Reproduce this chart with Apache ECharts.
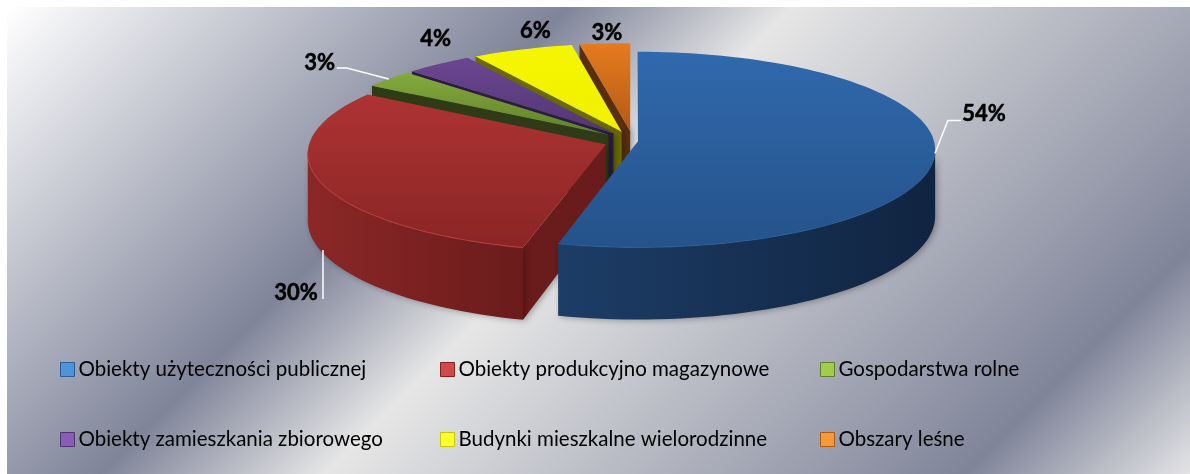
<!DOCTYPE html>
<html>
<head>
<meta charset="utf-8">
<style>
  html, body { margin: 0; padding: 0; background: #fff; }
  #chart { width: 1190px; height: 474px; }
</style>
<script src="https://cdn.jsdelivr.net/npm/echarts@6/dist/echarts.min.js"></script>
</head>
<body>
<div id="chart"></div>
<script>
const categories = [
  'Obiekty użyteczności publicznej',
  'Obiekty produkcyjno magazynowe',
  'Gospodarstwa rolne',
  'Obiekty zamieszkania zbiorowego',
  'Budynki mieszkalne wielorodzinne',
  'Obszary leśne'
]
const shares = [54, 30, 3, 4, 6, 3]

// look of each slice: top surface gradient, walls, exploded distance
const topColors = [
  ['#3069ad', '#25528a'], ['#ae3333', '#8a2525'], ['#84ab3c', '#5f802b'],
  ['#6b4692', '#533672'], ['#f6f600', '#f0f000'], ['#e67b20', '#b25a14']
]
const wallColors = [
  ['#1d3d67', '#102440'], ['#8c2727', '#6a1b1b'], ['#2f3a16', '#2f3a16'],
  ['#2c1c44', '#2c1c44'], ['#6a6a00', '#6a6a00'], ['#5a2e0a', '#5a2e0a']
]
const legendColors = [
  ['#4f94d8', '#2d5c96'], ['#d04a4a', '#7f2222'], ['#a3cc4c', '#5f802b'],
  ['#8a5cb8', '#4f3570'], ['#ffff30', '#c8c800'], ['#f59a3a', '#b25a14']
]
const explode = [5, 29, 31, 31, 31, 31]
// leader line and label, relative to the rim point at the middle of the slice
const leaders = [
  [[0, 0], [13, -33], [26, -33]],
  [[3, 0], [3, 49]],
  [[0, 0], [-42, -11], [-52, -11]],
  [], [], []
]
const labelOffsets = [[49, -40], [-24, 43], [-69, -16], [-3, -25], [13, -19], [2, -11]]
const legendSpots = [[60, 359], [440, 359], [820, 359], [60, 429], [440, 429], [820, 429]]

// projection of the tilted disc
const CX = 633, CY = 141, R = 296, RY = 97, K = 0.0855, DEPTH = 66

function project(x, y, drop) {
  const s = 1 / (1 - K * y)
  return [CX + R * x * s, CY + RY * y * s + (drop || 0) * s]
}
function polar(deg) {
  const a = deg * Math.PI / 180
  return [Math.sin(a), -Math.cos(a)]
}
function rimPoint(apex, deg, drop) {
  const p = polar(deg)
  return project(apex[0] + p[0], apex[1] + p[1], drop)
}
function arc(apex, from, to, drop) {
  const pts = []
  const n = Math.max(2, Math.ceil(Math.abs(to - from) / 2))
  for (let i = 0; i <= n; i++) pts.push(rimPoint(apex, from + (to - from) * i / n, drop))
  return pts
}
function linear(x, y, x2, y2, c) {
  return { type: 'linear', global: true, x, y, x2, y2, colorStops: [{ offset: 0, color: c[0] }, { offset: 1, color: c[1] }] }
}

function renderSlice(params, api) {
  const cat = api.value(3)
  const from = api.value(0), to = api.value(1)
  const mid = (from + to) / 2
  const m = polar(mid)
  const e = explode[cat] / R
  const apex = [m[0] * e, m[1] * e]
  const children = []
  const shadow = { shadowBlur: 6, shadowColor: 'rgba(0,0,0,0.3)', shadowOffsetX: 2, shadowOffsetY: 1 }

  const apexTop = project(apex[0], apex[1])
  const apexBottom = project(apex[0], apex[1], DEPTH)
  const topPts = [apexTop].concat(arc(apex, from, to))
  const ys = topPts.map(p => p[1])

  // radial wall that faces the viewer
  if (Math.sin(from * Math.PI / 180) < -0.01) {
    const a = rimPoint(apex, from), b = rimPoint(apex, from, DEPTH)
    children.push({
      type: 'polygon',
      shape: { points: [apexTop, a, b, apexBottom] },
      style: Object.assign({ fill: wallColors[cat][1] }, shadow)
    })
  }
  // outer wall, between the widest points of the rim
  const wFrom = Math.max(from, 95), wTo = Math.min(to, 266)
  if (wTo > wFrom) {
    const upper = arc(apex, wFrom, wTo)
    const lower = arc(apex, wFrom, wTo, DEPTH).reverse()
    const wx = upper.map(p => p[0])
    const left = Math.min.apply(null, wx), right = Math.max.apply(null, wx)
    children.push({
      type: 'polygon',
      shape: { points: upper.concat(lower) },
      style: Object.assign({ fill: linear(left, 0, right, 0, wallColors[cat]) }, shadow)
    })
  }
  // top surface
  children.push({
    type: 'polygon',
    shape: { points: topPts },
    style: { fill: linear(0, Math.min.apply(null, ys), 0, Math.max.apply(null, ys), topColors[cat]) }
  })
  // thin bevel on the near rim
  if (wTo > wFrom) {
    children.push({
      type: 'polyline',
      shape: { points: arc(apex, wFrom, wTo) },
      style: { stroke: cat === 0 ? '#2a5c99' : '#bb3d3d', lineWidth: 1.2, fill: null, opacity: 0.8 }
    })
  }
  // leader and label
  const anchor = cat === 1 ? rimPoint(apex, mid, DEPTH) : rimPoint(apex, mid)
  if (leaders[cat].length) {
    children.push({
      type: 'polyline',
      shape: { points: leaders[cat].map(d => [anchor[0] + d[0], anchor[1] + d[1]]) },
      style: { stroke: '#fff', lineWidth: 1.5, fill: null }
    })
  }
  children.push({
    type: 'text',
    style: {
      text: api.value(2) + '%',
      x: anchor[0] + labelOffsets[cat][0],
      y: anchor[1] + labelOffsets[cat][1],
      align: 'center',
      verticalAlign: 'middle',
      font: 'bold 22px Lato',
      fill: '#000',
      stroke: '#000',
      lineWidth: 0.5
    }
  })
  return { type: 'group', children }
}

// slices run clockwise from twelve o'clock
let running = 0
const total = shares.reduce((a, b) => a + b, 0)
const spans = shares.map(v => {
  const from = running / total * 360
  running += v
  return [from, running / total * 360]
})

// painted far to near
const paintOrder = [5, 4, 3, 2, 1, 0]

const chart = echarts.init(document.getElementById('chart'), null, { renderer: 'canvas' })
chart.setOption({
  animation: false,
  backgroundColor: '#fff',
  graphic: [{
    type: 'rect',
    z: -10,
    silent: true,
    shape: { x: 7, y: 7, width: 1183, height: 467 },
    style: {
      fill: {
        type: 'linear', global: true, x: 7, y: 7, x2: 832, y2: 832,
        colorStops: [
          { offset: 0, color: '#ffffff' },
          { offset: 0.34, color: '#7f8499' },
          { offset: 0.476, color: '#e6e6e6' },
          { offset: 0.864, color: '#7f8499' },
          { offset: 1, color: '#e4e4e6' }
        ]
      }
    }
  }],
  legend: categories.map((name, i) => ({
    left: legendSpots[i][0],
    top: legendSpots[i][1],
    padding: 0,
    itemWidth: 14,
    itemHeight: 14,
    itemGap: 0,
    icon: 'rect',
    selectedMode: false,
    textStyle: { fontFamily: 'Lato', fontSize: 20.5, color: '#000', padding: [0, 0, 0, -1] },
    data: [{
      name,
      itemStyle: {
        color: linear(0, legendSpots[i][1], 0, legendSpots[i][1] + 14, legendColors[i]),
        borderColor: legendColors[i][1],
        borderWidth: 1
      }
    }]
  })),
  series: paintOrder.map(i => ({
    type: 'custom',
    name: categories[i],
    coordinateSystem: 'none',
    renderItem: renderSlice,
    itemStyle: { color: legendColors[i][0] },
    data: [[spans[i][0], spans[i][1], shares[i], i]]
  }))
})
</script>
</body>
</html>
